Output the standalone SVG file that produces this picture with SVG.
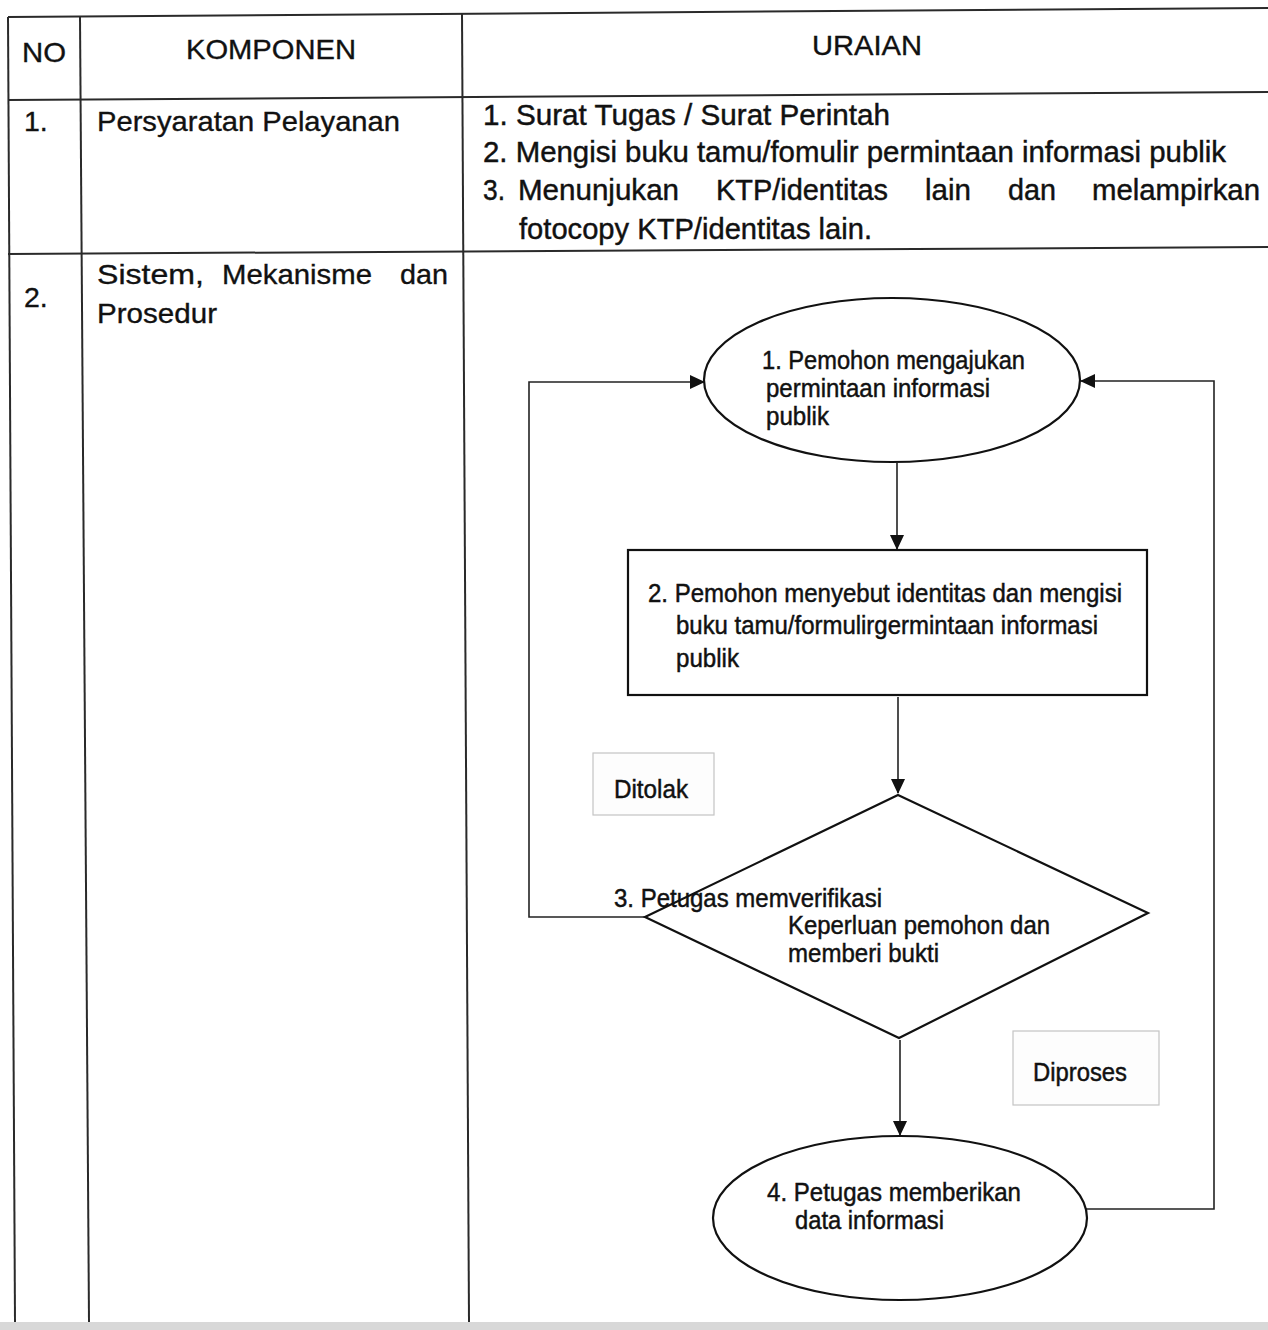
<svg xmlns="http://www.w3.org/2000/svg" width="1268" height="1330" viewBox="0 0 1268 1330">
<defs>
<style>
.tl{stroke:#2a2a2a;stroke-width:2;fill:none}
.t{font-family:"Liberation Sans",Arial,sans-serif;fill:#111;stroke:#111;stroke-width:0.35}
.h{font-size:28px}
.b{font-size:28.5px}
.n{font-family:"Liberation Sans Narrow","Liberation Sans",Arial,sans-serif;fill:#111;stroke:#111;stroke-width:0.45}
.u{font-size:30px}
.f{font-size:25px}
.shape{stroke:#111;stroke-width:2.2;fill:none}
.conn{stroke:#222;stroke-width:1.6;fill:none}
.lbl{stroke:#c4c4c4;stroke-width:1.2;fill:#fdfdfd}
</style>
<marker id="arr" viewBox="0 0 15 14" refX="14" refY="7" markerWidth="15" markerHeight="14" markerUnits="userSpaceOnUse" orient="auto">
<path d="M0,0 L15,7 L0,14 z" fill="#111"/>
</marker>
</defs>
<rect width="1268" height="1330" fill="#ffffff"/>
<rect x="0" y="1322" width="1268" height="8" fill="#d8d8d8"/>
<g id="table">
<line class="tl" x1="8" y1="17" x2="1268" y2="8"/>
<line class="tl" x1="8" y1="100" x2="1268" y2="92"/>
<line class="tl" x1="8" y1="254" x2="1268" y2="247"/>
<line class="tl" x1="8" y1="17" x2="15" y2="1322"/>
<line class="tl" x1="80" y1="17" x2="89" y2="1322"/>
<line class="tl" x1="462" y1="14" x2="469" y2="1322"/>
<text class="t h" x="22" y="62" textLength="44" lengthAdjust="spacingAndGlyphs">NO</text>
<text class="t h" x="186" y="59" textLength="170" lengthAdjust="spacingAndGlyphs">KOMPONEN</text>
<text class="t h" x="812" y="55" textLength="110" lengthAdjust="spacingAndGlyphs">URAIAN</text>
<text class="t b" x="24" y="131">1.</text>
<text class="t b" x="97" y="131" textLength="303" lengthAdjust="spacingAndGlyphs">Persyaratan Pelayanan</text>
<text class="n u" x="483" y="125" textLength="407" lengthAdjust="spacingAndGlyphs">1. Surat Tugas / Surat Perintah</text>
<text class="n u" x="483" y="162" textLength="743" lengthAdjust="spacingAndGlyphs">2. Mengisi buku tamu/fomulir permintaan informasi publik</text>
<text class="n u" x="483" y="200" textLength="22" lengthAdjust="spacingAndGlyphs">3.</text>
<text class="n u" x="518" y="200" textLength="161" lengthAdjust="spacingAndGlyphs">Menunjukan</text>
<text class="n u" x="716" y="200" textLength="172" lengthAdjust="spacingAndGlyphs">KTP/identitas</text>
<text class="n u" x="925" y="200" textLength="46" lengthAdjust="spacingAndGlyphs">lain</text>
<text class="n u" x="1008" y="200" textLength="48" lengthAdjust="spacingAndGlyphs">dan</text>
<text class="n u" x="1092" y="200" textLength="168" lengthAdjust="spacingAndGlyphs">melampirkan</text>
<text class="n u" x="519" y="239" textLength="353" lengthAdjust="spacingAndGlyphs">fotocopy KTP/identitas lain.</text>
<text class="t b" x="24" y="307">2.</text>
<text class="t b" x="97" y="284" textLength="107" lengthAdjust="spacingAndGlyphs">Sistem,</text>
<text class="t b" x="222" y="284" textLength="150" lengthAdjust="spacingAndGlyphs">Mekanisme</text>
<text class="t b" x="400" y="284" textLength="48" lengthAdjust="spacingAndGlyphs">dan</text>
<text class="t b" x="97" y="323" textLength="120" lengthAdjust="spacingAndGlyphs">Prosedur</text>
</g>
<g id="connectors">
<line class="conn" x1="897" y1="463" x2="897" y2="549" marker-end="url(#arr)"/>
<line class="conn" x1="898" y1="697" x2="898" y2="793" marker-end="url(#arr)"/>
<line class="conn" x1="900" y1="1040" x2="900" y2="1135" marker-end="url(#arr)"/>
<polyline class="conn" points="645,917 529,917 529,382 704,382" marker-end="url(#arr)"/>
<polyline class="conn" points="1086,1209 1214,1209 1214,381 1081,381" marker-end="url(#arr)"/>
</g>
<g id="node1">
<ellipse class="shape" cx="892" cy="380" rx="188" ry="82"/>
<text class="n f" x="762" y="369" textLength="263" lengthAdjust="spacingAndGlyphs">1. Pemohon mengajukan</text>
<text class="n f" x="766" y="397" textLength="224" lengthAdjust="spacingAndGlyphs">permintaan informasi</text>
<text class="n f" x="766" y="425" textLength="63" lengthAdjust="spacingAndGlyphs">publik</text>
</g>
<g id="node2">
<rect class="shape" x="628" y="550" width="519" height="145"/>
<text class="n f" x="648" y="602" textLength="474" lengthAdjust="spacingAndGlyphs">2. Pemohon menyebut identitas dan mengisi</text>
<text class="n f" x="676" y="634" textLength="422" lengthAdjust="spacingAndGlyphs">buku tamu/formulirgermintaan informasi</text>
<text class="n f" x="676" y="667" textLength="63" lengthAdjust="spacingAndGlyphs">publik</text>
</g>
<g id="node3">
<polygon class="shape" points="898,795 1148,913 899,1038 645,917"/>
<text class="n f" x="614" y="907" textLength="268" lengthAdjust="spacingAndGlyphs">3. Petugas memverifikasi</text>
<text class="n f" x="788" y="934" textLength="262" lengthAdjust="spacingAndGlyphs">Keperluan pemohon dan</text>
<text class="n f" x="788" y="962" textLength="151" lengthAdjust="spacingAndGlyphs">memberi bukti</text>
</g>
<g id="label-ditolak">
<rect class="lbl" x="593" y="753" width="121" height="62"/>
<text class="n f" x="614" y="798" textLength="74" lengthAdjust="spacingAndGlyphs">Ditolak</text>
</g>
<g id="label-diproses">
<rect class="lbl" x="1013" y="1031" width="146" height="74"/>
<text class="n f" x="1033" y="1081" textLength="94" lengthAdjust="spacingAndGlyphs">Diproses</text>
</g>
<g id="node4">
<ellipse class="shape" cx="900" cy="1218" rx="187" ry="82"/>
<text class="n f" x="767" y="1201" textLength="254" lengthAdjust="spacingAndGlyphs">4. Petugas memberikan</text>
<text class="n f" x="795" y="1229" textLength="149" lengthAdjust="spacingAndGlyphs">data informasi</text>
</g>
</svg>
